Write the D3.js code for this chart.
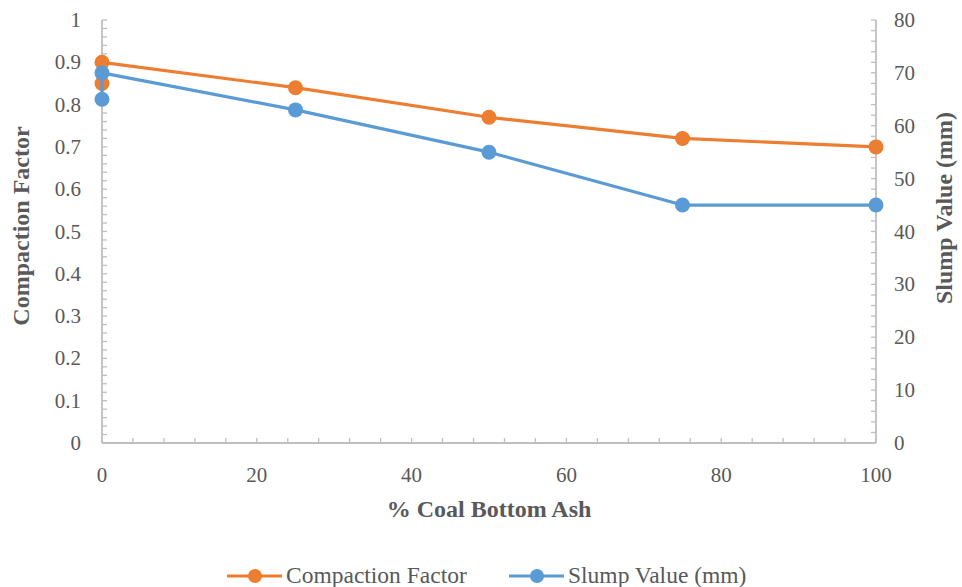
<!DOCTYPE html>
<html><head><meta charset="utf-8">
<script src="https://cdn.jsdelivr.net/npm/d3@7"></script>
<style>body{margin:0;background:#fff}svg{display:block}</style>
</head><body><svg id="c" width="962" height="587" font-family="'Liberation Serif', Tinos, 'Times New Roman', 'DejaVu Serif', serif"></svg>
<script>
const xValues = [0, 0, 25, 50, 75, 100];
const compactionFactor = [0.85, 0.90, 0.84, 0.77, 0.72, 0.70];
const slumpValue = [65, 70, 63, 55, 45, 45];
const xTicks = [0, 20, 40, 60, 80, 100];
const leftTicks = [0, 0.1, 0.2, 0.3, 0.4, 0.5, 0.6, 0.7, 0.8, 0.9, 1];
const rightTicks = [0, 10, 20, 30, 40, 50, 60, 70, 80];

const svg = d3.select("#c");
const L = 102, R = 876, T = 20, B = 443;
const x = d3.scaleLinear().domain([0, 100]).range([L, R]);
const yL = d3.scaleLinear().domain([0, 1]).range([B, T]);
const yR = d3.scaleLinear().domain([0, 80]).range([B, T]);
const axisColor = "#bfbfbf";
const txt = "#595959";

const g = svg.append("g");
d3.range(0, 100.001, 4).forEach(v => g.append("line").attr("x1", x(v)).attr("x2", x(v)).attr("y1", B).attr("y2", B - 5).attr("stroke", axisColor).attr("stroke-width", 1.3));
d3.range(0, 1.0001, 0.02).forEach(v => g.append("line").attr("x1", L).attr("x2", L + 5).attr("y1", yL(v)).attr("y2", yL(v)).attr("stroke", axisColor).attr("stroke-width", 1.3));
d3.range(0, 80.001, 2).forEach(v => g.append("line").attr("x1", R).attr("x2", R - 5).attr("y1", yR(v)).attr("y2", yR(v)).attr("stroke", axisColor).attr("stroke-width", 1.3));

g.append("line").attr("x1", L).attr("x2", R).attr("y1", B).attr("y2", B).attr("stroke", axisColor).attr("stroke-width", 1.8);
g.append("line").attr("x1", L).attr("x2", L).attr("y1", T).attr("y2", B).attr("stroke", axisColor).attr("stroke-width", 1.8);
g.append("line").attr("x1", R).attr("x2", R).attr("y1", T).attr("y2", B).attr("stroke", axisColor).attr("stroke-width", 1.8);

const fs = 21;
svg.append("g").selectAll("text").data(xTicks).join("text")
  .attr("x", d => x(d)).attr("y", 482).attr("text-anchor", "middle").attr("font-size", fs).attr("fill", txt).text(d => d);
svg.append("g").selectAll("text").data(leftTicks).join("text")
  .attr("x", 81).attr("y", d => yL(d) + 7).attr("text-anchor", "end").attr("font-size", fs).attr("fill", txt).text(d => d3.format("~g")(d));
svg.append("g").selectAll("text").data(rightTicks).join("text")
  .attr("x", 894).attr("y", d => yR(d) + 7).attr("text-anchor", "start").attr("font-size", fs).attr("fill", txt).text(d => d);

svg.append("text").attr("x", (L + R) / 2).attr("y", 517).attr("text-anchor", "middle").attr("font-size", 24).attr("font-weight", "bold").attr("fill", txt).text("% Coal Bottom Ash");
svg.append("text").attr("transform", "translate(29,226) rotate(-90)").attr("text-anchor", "middle").attr("font-size", 24).attr("font-weight", "bold").attr("fill", txt).text("Compaction Factor");
svg.append("text").attr("transform", "translate(952,208) rotate(-90)").attr("text-anchor", "middle").attr("font-size", 24).attr("font-weight", "bold").attr("fill", txt).text("Slump Value (mm)");

const orange = "#ED7D31", blue = "#5B9BD5";
function series(vals, yScale, color) {
  const pts = vals.map((v, i) => [x(xValues[i]), yScale(v)]);
  svg.append("path").attr("d", d3.line()(pts)).attr("fill", "none").attr("stroke", color).attr("stroke-width", 3.2).attr("stroke-linejoin", "round");
  svg.append("g").selectAll("circle").data(pts).join("circle").attr("cx", d => d[0]).attr("cy", d => d[1]).attr("r", 7.5).attr("fill", color);
}
series(compactionFactor, yL, orange);
series(slumpValue, yR, blue);

const ly = 576;
const legend = [{name: "Compaction Factor", color: orange, x: 227}, {name: "Slump Value (mm)", color: blue, x: 509}];
legend.forEach(d => {
  svg.append("line").attr("x1", d.x).attr("x2", d.x + 55).attr("y1", ly).attr("y2", ly).attr("stroke", d.color).attr("stroke-width", 3.2);
  svg.append("circle").attr("cx", d.x + 28).attr("cy", ly).attr("r", 7).attr("fill", d.color);
  svg.append("text").attr("x", d.x + 59).attr("y", ly + 7).attr("font-size", 23.5).attr("fill", txt).text(d.name);
});
</script></body></html>
